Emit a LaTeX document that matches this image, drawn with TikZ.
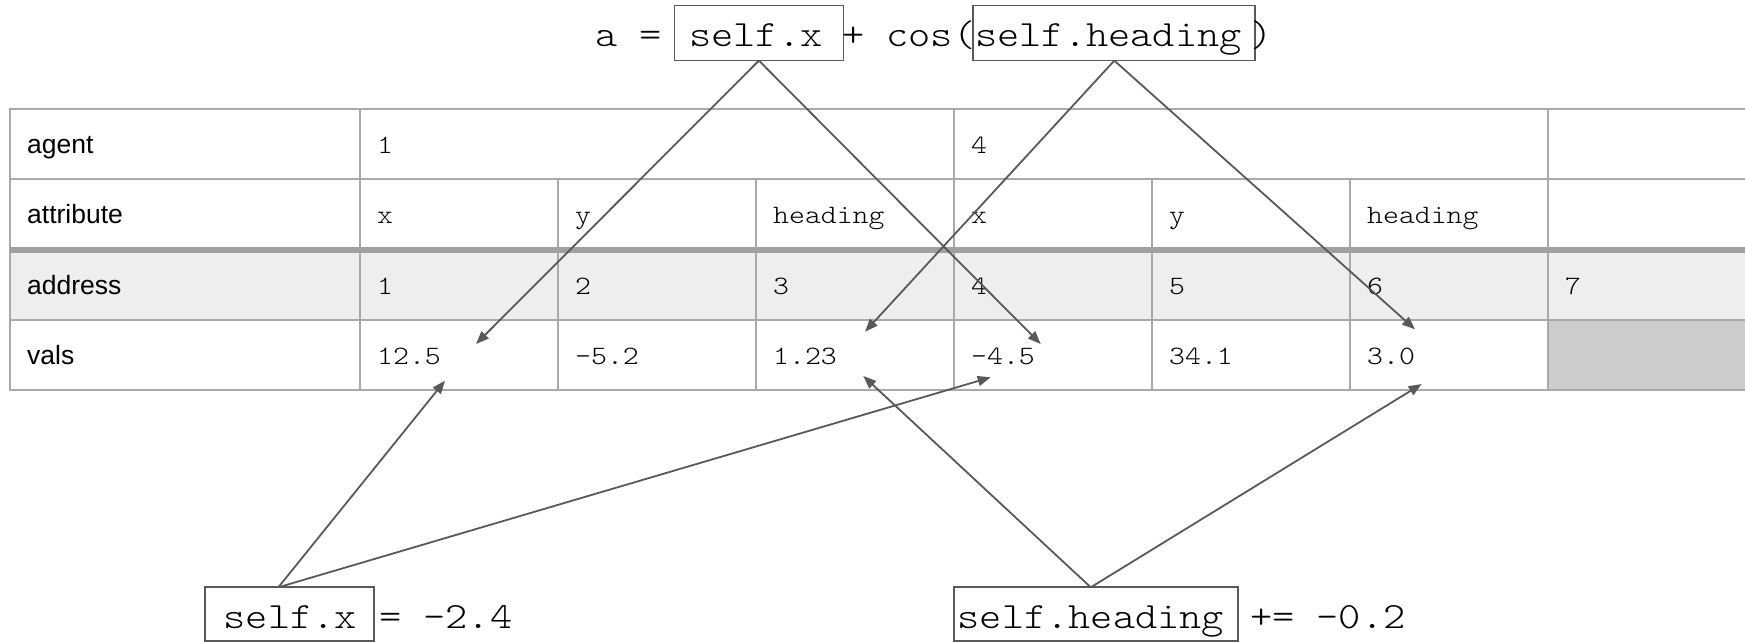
\documentclass[tikz,border=0pt]{standalone}
\usepackage{fontspec}
\setmainfont{Liberation Sans}
% light typewriter face widened to the usual 0.6em advance
\newfontfamily\monofont{lmmonolt10-regular.otf}[FakeStretch=1.143]
\usetikzlibrary{arrows.meta}
\definecolor{gridgrey}{HTML}{A9A9A9}
\definecolor{bandgrey}{HTML}{A0A0A0}
\definecolor{addrfill}{HTML}{EEEEEE}
\definecolor{emptyfill}{HTML}{CCCCCC}
\definecolor{inkgrey}{HTML}{595959}

\begin{document}
\begin{tikzpicture}[x=1pt,y=-1pt,
  grid/.style={draw=gridgrey, line width=2pt},
  band/.style={draw=bandgrey, line width=6.5pt},
  rowlabel/.style={anchor=base west, inner sep=0pt, font=\fontsize{26.5}{30}\selectfont},
  cell/.style={anchor=base west, inner sep=0pt, font=\monofont\fontsize{26.5}{30}\selectfont},
  code/.style={anchor=base west, inner sep=0pt, font=\monofont\fontsize{37}{42}\selectfont},
  codebox/.style={draw=inkgrey, line width=1.8pt, inner sep=0pt, outer sep=0pt, anchor=north west},
  ptr/.style={draw=inkgrey, line width=1.8pt, -{Triangle[length=13pt,width=10pt]}},
]
\useasboundingbox (0,0) rectangle (1745,642);

% --- table background fills
\fill[addrfill] (10,250) rectangle (1745,320);
\fill[emptyfill] (1548,320) rectangle (1745,390);

% --- table grid
\draw[grid, line join=miter] (1745,109) -- (10,109) -- (10,390) -- (1745,390);
\foreach \y in {179,320} \draw[grid] (10,\y) -- (1745,\y);
\foreach \x in {360,954,1548} \draw[grid] (\x,109) -- (\x,390);
\foreach \x in {558,756,1152,1350} \draw[grid] (\x,179) -- (\x,390);
\draw[band] (10,250) -- (1745,250);

% --- row labels
\node[rowlabel] (lagent) at (27,153) {agent};
\node[rowlabel] (lattr) at (27,223.5) {attribute};
\node[rowlabel] (laddr) at (27,294) {address};
\node[rowlabel] (lvals) at (27,364) {vals};

% --- agent row
\node[cell] (ag1) at (377,153) {1};
\node[cell] (ag4) at (971,153) {4};

% --- attribute row
\node[cell] (at1) at (377,223.5) {x};
\node[cell] (at2) at (575,223.5) {y};
\node[cell] (at3) at (773,223.5) {heading};
\node[cell] (at4) at (971,223.5) {x};
\node[cell] (at5) at (1169,223.5) {y};
\node[cell] (at6) at (1367,223.5) {heading};

% --- address row
\node[cell] (ad1) at (377,294) {1};
\node[cell] (ad2) at (575,294) {2};
\node[cell] (ad3) at (773,294) {3};
\node[cell] (ad4) at (971,294) {4};
\node[cell] (ad5) at (1169,294) {5};
\node[cell] (ad6) at (1367,294) {6};
\node[cell] (ad7) at (1565,294) {7};

% --- value row
\node[cell] (v1) at (377,364) {12.5};
\node[cell] (v2) at (575,364) {-5.2};
\node[cell] (v3) at (773,364) {1.23};
\node[cell] (v4) at (971,364) {-4.5};
\node[cell] (v5) at (1169,364) {34.1};
\node[cell] (v6) at (1367,364) {3.0};

% --- expression on top
\node[code] (ta) at (595,47) {a =};
\node[codebox, minimum width=169pt, minimum height=55pt] (bx) at (674.4,5.6) {};
\node[code] (tx) at (689,47) {self.x};
\node[code] (tplus) at (842,47) {+ cos(};
\node[codebox, minimum width=282pt, minimum height=55pt] (bh) at (973.3,5.6) {};
\node[code] (th) at (975,47) {self.heading};
\node[code] (tclose) at (1250,47) {)};

% --- statements at the bottom
\node[codebox, minimum width=169.3pt, minimum height=53.7pt] (bsx) at (205,587.3) {};
\node[code] (bsxt) at (223.5,628) {self.x};
\node[code] (bsxv) at (379,628) {= -2.4};
\node[codebox, minimum width=283.7pt, minimum height=53.7pt] (bsh) at (954,587.3) {};
\node[code] (bsht) at (957.5,628) {self.heading};
\node[code] (bshv) at (1250,628) {+= -0.2};

% --- arrow targets inside the value cells
\coordinate (t1) at (476,344);
\coordinate (t2) at (1040.7,344);
\coordinate (t3) at (865,331.7);
\coordinate (t4) at (1415,329.3);
\coordinate (t5) at (445,380.7);
\coordinate (t6) at (990.7,377.3);
\coordinate (t7) at (863.3,376);
\coordinate (t8) at (1421.7,384);

% --- pointers
\draw[ptr] (bx.south) -- (t1);
\draw[ptr] (bx.south) -- (t2);
\draw[ptr] (bh.south) -- (t3);
\draw[ptr] (bh.south) -- (t4);
\draw[ptr] ([xshift=-11.3pt]bsx.north) -- (t5);
\draw[ptr] ([xshift=-11.3pt]bsx.north) -- (t6);
\draw[ptr] ([xshift=-5.1pt]bsh.north) -- (t7);
\draw[ptr] ([xshift=-5.1pt]bsh.north) -- (t8);
\end{tikzpicture}
\end{document}
